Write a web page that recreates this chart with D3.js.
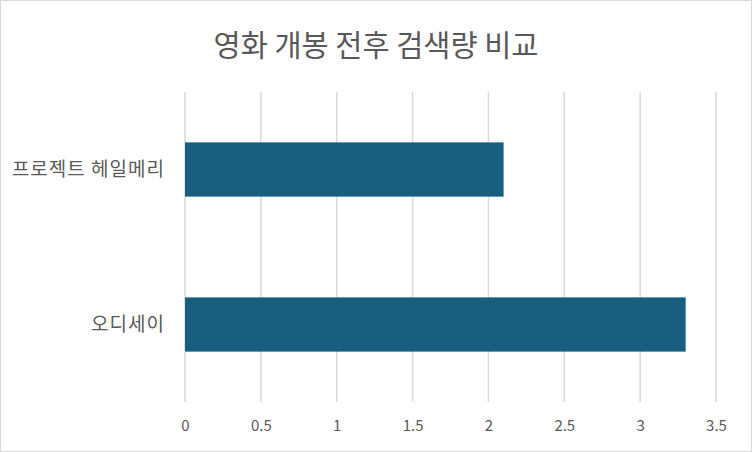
<!DOCTYPE html>
<html>
<head>
<meta charset="utf-8">
<script src="https://cdn.jsdelivr.net/npm/d3@7"></script>
<style>
  html, body { margin: 0; padding: 0; background: #fff; }
  svg { display: block; }
</style>
</head>
<body>
<svg id="chart" width="752" height="452"></svg>
<script>
// chart data
const titleText = "영화 개봉 전후 검색량 비교"
const categories = ["프로젝트 헤일메리", "오디세이"]
const values = [2.1, 3.3]
const xTicks = [0, 0.5, 1, 1.5, 2, 2.5, 3, 3.5]

const width = 752
const height = 452
const plot = { left: 185, right: 716, top: 92, bottom: 402 }
const fontFamily = "'Noto Sans CJK KR', 'Noto Sans', sans-serif"

const svg = d3.select('#chart')

// outer border
svg.append('rect')
    .attr('x', 0.5).attr('y', 0.5)
    .attr('width', width - 1).attr('height', height - 1)
    .attr('fill', '#fff')
    .attr('stroke', '#d9d9d9')

const x = d3.scaleLinear()
    .domain([0, 3.5])
    .range([plot.left, plot.right])

const y = d3.scaleBand()
    .domain(categories)
    .range([plot.top, plot.bottom])
    .paddingInner(0.65)
    .paddingOuter(0.325)

// vertical gridlines
svg.append('g')
    .selectAll('line')
    .data(xTicks)
    .join('line')
    .attr('x1', d => x(d)).attr('x2', d => x(d))
    .attr('y1', plot.top).attr('y2', plot.bottom)
    .attr('stroke', '#d9d9d9')
    .attr('stroke-width', 1.5)

// bars
svg.append('g')
    .selectAll('rect')
    .data(categories)
    .join('rect')
    .attr('x', x(0))
    .attr('y', d => y(d))
    .attr('width', (d, i) => x(values[i]) - x(0))
    .attr('height', y.bandwidth())
    .attr('fill', '#175e7f')

// x axis tick labels
const xAxis = svg.append('g')
    .attr('transform', `translate(0,${plot.bottom})`)
    .call(d3.axisBottom(x).tickValues(xTicks).tickSize(0).tickPadding(18).tickFormat(d3.format('')))
xAxis.select('.domain').remove()
xAxis.selectAll('text')
    .attr('fill', '#595959')
    .style('font-family', fontFamily)
    .style('font-size', '15px')

// y axis category labels
const yAxis = svg.append('g')
    .attr('transform', `translate(${plot.left},0)`)
    .call(d3.axisLeft(y).tickSize(0).tickPadding(20))
yAxis.select('.domain').remove()
yAxis.selectAll('text')
    .attr('fill', '#595959')
    .style('font-family', fontFamily)
    .style('font-size', '19px')
    .style('letter-spacing', '1px')

// title
svg.append('text')
    .attr('x', width / 2)
    .attr('y', 56)
    .attr('text-anchor', 'middle')
    .attr('fill', '#595959')
    .style('font-family', fontFamily)
    .style('font-size', '29.5px')
    .text(titleText)
</script>
</body>
</html>
